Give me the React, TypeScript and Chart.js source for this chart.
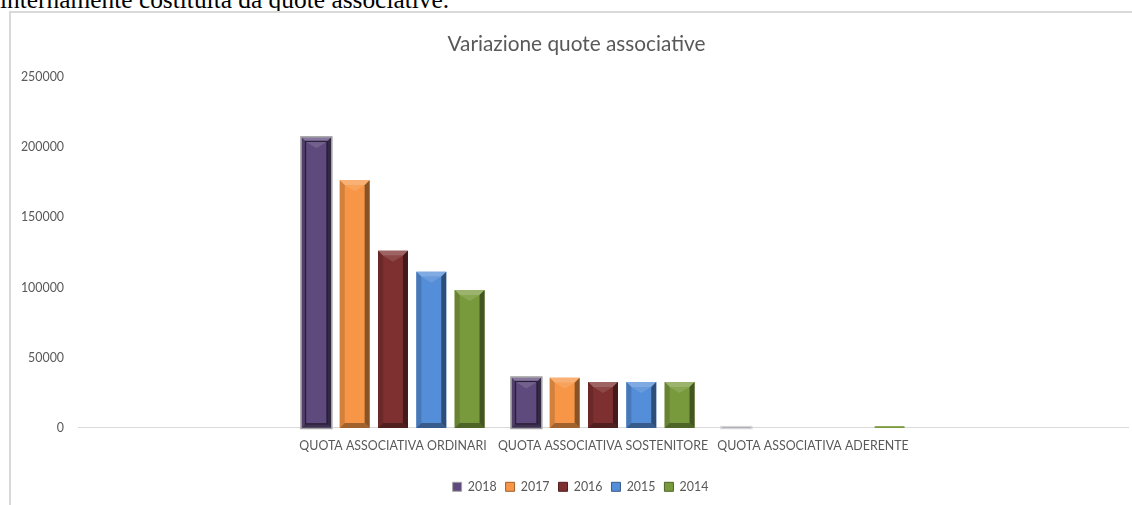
import { useEffect, useRef } from 'react';
import { Chart, registerables } from 'chart.js';

Chart.register(...registerables);

const categories = ['', 'QUOTA ASSOCIATIVA ORDINARI', 'QUOTA ASSOCIATIVA SOSTENITORE', 'QUOTA ASSOCIATIVA ADERENTE', ''];
const seriesNames = ['2018', '2017', '2016', '2015', '2014'];
const values2018 = [null, 207000, 36000, 600, null];
const values2017 = [null, 176500, 35800, 0, null];
const values2016 = [null, 126200, 32700, 0, null];
const values2015 = [null, 111300, 32700, 0, null];
const values2014 = [null, 98200, 32700, 1300, null];
const seriesValues = [values2018, values2017, values2016, values2015, values2014];
const seriesColors = ['#5f4a7d', '#f79646', '#7e2f2f', '#548dd8', '#799a3c'];
const yMax = 250000;
const yStep = 50000;

const FONT = 'Lato, "Open Sans", sans-serif';
const TEXT = '#595959';

function mix(hex: string, target: string, t: number) {
  const p = (h: string) => [1, 3, 5].map((i) => parseInt(h.slice(i, i + 2), 16));
  const a = p(hex);
  const b = p(target);
  const c = a.map((v, i) => Math.round(v + (b[i] - v) * t));
  return `rgb(${c[0]},${c[1]},${c[2]})`;
}

const bevelPlugin = {
  id: 'bevel',
  afterDatasetsDraw(chart: any) {
    const ctx: CanvasRenderingContext2D = chart.ctx;
    const poly = (pts: number[][], fill: string) => {
      ctx.beginPath();
      ctx.moveTo(pts[0][0], pts[0][1]);
      for (let k = 1; k < pts.length; k++) ctx.lineTo(pts[k][0], pts[k][1]);
      ctx.closePath();
      ctx.fillStyle = fill;
      ctx.fill();
    };
    chart.data.datasets.forEach((ds: any, i: number) => {
      const meta = chart.getDatasetMeta(i);
      const face = seriesColors[i];
      meta.data.forEach((el: any, j: number) => {
        const v = ds.data[j];
        if (v == null || v === 0) return;
        const { x, y, base, width } = el.getProps(['x', 'y', 'base', 'width'], true);
        const l = x - width / 2;
        const r = x + width / 2;
        const t = Math.min(y, base);
        const b = Math.max(y, base);
        const h = b - t;
        ctx.save();
        if (h >= 3) {
          const bv = Math.min(5, h / 2, width / 2);
          poly([[l, t], [r, t], [r - bv, t + bv], [l + bv, t + bv]], mix(face, '#ffffff', 0.25));
          poly([[l, t], [l + bv, t + bv], [l + bv, b - bv], [l, b]], mix(face, '#000000', 0.15));
          poly([[r, t], [r, b], [r - bv, b - bv], [r - bv, t + bv]], mix(face, '#000000', 0.45));
          poly([[l, b], [l + bv, b - bv], [r - bv, b - bv], [r, b]], mix(face, '#000000', 0.35));
          const cx = (l + r) / 2;
          const ch = Math.min(6, h / 3);
          poly([[l + bv, t + bv], [r - bv, t + bv], [cx, t + bv + ch]], mix(face, '#ffffff', 0.12));
          if (i === 0) {
            ctx.strokeStyle = '#2a1f3a';
            ctx.lineWidth = 1.2;
            ctx.strokeRect(l + bv - 1, t + bv - 1, width - 2 * bv + 2, h - 2 * bv + 2);
          }
        }
        if (i === 0) {
          ctx.strokeStyle = h >= 3 ? '#a3a3a3' : '#d6d6d6';
          ctx.lineWidth = 1.5;
          ctx.strokeRect(l - 0.5, t - 0.5, width + 1, h + 1);
        }
        ctx.restore();
      });
    });
  },
};

// Re-centre title and legend on the chart frame (they would otherwise follow the plot padding)
const shiftPlugin = {
  id: 'shiftBlocks',
  afterLayout(chart: any) {
    if (chart.titleBlock) {
      chart.titleBlock.left += 7;
      chart.titleBlock.right += 7;
    }
    if (chart.legend) {
      chart.legend.left += 11;
      chart.legend.right += 11;
    }
  },
};

export default function App() {
  const ref = useRef<HTMLCanvasElement>(null);
  useEffect(() => {
    document.body.style.margin = '0';
    const chart = new Chart(ref.current as HTMLCanvasElement, {
      type: 'bar',
      data: {
        labels: categories,
        datasets: seriesNames.map((name, i) => ({
          label: name,
          data: seriesValues[i] as any,
          backgroundColor: seriesColors[i],
          borderWidth: 0,
        })),
      },
      options: {
        responsive: false,
        animation: false,
        devicePixelRatio: 1,
        layout: { padding: { left: 0, right: 14, top: 0, bottom: 2 } },
        datasets: { bar: { categoryPercentage: 0.912, barPercentage: 0.78 } },
        plugins: {
          title: {
            display: true,
            text: 'Variazione quote associative',
            color: TEXT,
            font: { family: FONT, size: 20.8, weight: 'normal' },
            padding: { top: 18.5, bottom: 20.5 },
          },
          legend: {
            position: 'bottom',
            labels: {
              boxWidth: 9,
              boxHeight: 9,
              padding: 9,
              color: TEXT,
              font: { family: FONT, size: 12.4 },
              generateLabels: () =>
                seriesNames.map((name, i) => ({
                  text: name,
                  fillStyle: seriesColors[i],
                  strokeStyle: i === 0 ? '#a3a3a3' : mix(seriesColors[i], '#000000', 0.35),
                  lineWidth: 1,
                  fontColor: TEXT,
                  datasetIndex: i,
                  hidden: false,
                })),
            },
          },
          tooltip: { enabled: false },
        },
        scales: {
          x: {
            grid: { display: false, drawTicks: false },
            border: { display: true, color: '#d9d9d9', width: 1 },
            ticks: { color: TEXT, font: { family: FONT, size: 12.4 }, padding: 11, maxRotation: 0, autoSkip: false },
            afterFit: (s: any) => {
              s.height = 43.6;
            },
          },
          y: {
            min: 0,
            max: yMax,
            grid: { display: false, drawTicks: false },
            border: { display: false },
            ticks: {
              stepSize: yStep,
              padding: 14,
              color: TEXT,
              font: { family: FONT, size: 12.4 },
              callback: (v: any) => String(v),
            },
            afterFit: (s: any) => {
              s.width = 67;
            },
          },
        },
      },
      plugins: [bevelPlugin, shiftPlugin],
    } as any);
    return () => chart.destroy();
  }, []);

  return (
    <div style={{ position: 'relative', width: 1132, height: 505, overflow: 'hidden', background: '#ffffff' }}>
      <div
        style={{
          position: 'absolute',
          left: 0,
          top: -12.5,
          fontFamily: '"Liberation Serif", "Times New Roman", serif',
          fontSize: 25.4,
          lineHeight: '23px',
          whiteSpace: 'nowrap',
          color: '#000',
        }}
      >
        internamente costituita da quote associative.
      </div>
      <div
        style={{
          position: 'absolute',
          left: 9,
          top: 11,
          width: 1131,
          height: 520,
          border: '2px solid #d9d9d9',
          boxSizing: 'content-box',
        }}
      >
        <canvas ref={ref} width={1131} height={492} style={{ display: 'block', width: 1131, height: 492 }} />
      </div>
    </div>
  );
}
